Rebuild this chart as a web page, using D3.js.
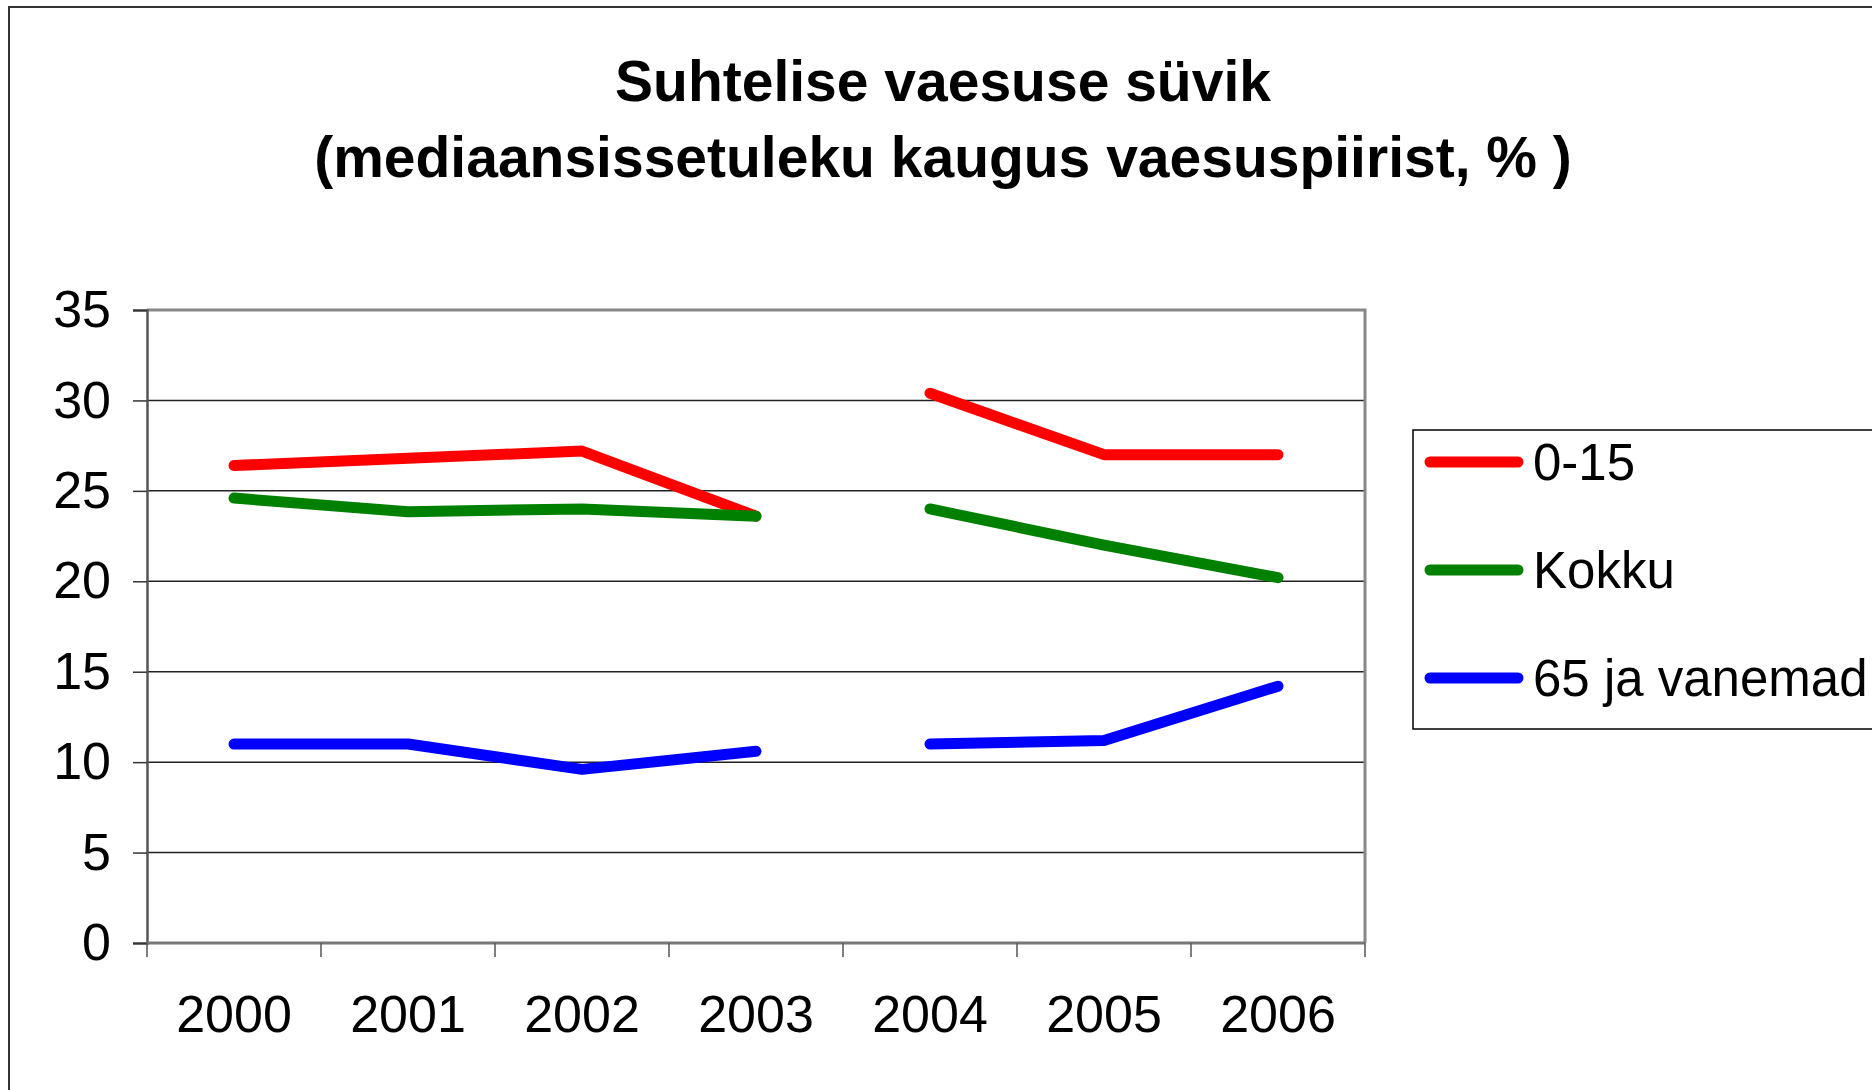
<!DOCTYPE html>
<html>
<head>
<meta charset="utf-8">
<script src="https://cdn.jsdelivr.net/npm/d3@7"></script>
<style>
  body { margin: 0; background: #fff; }
  text { font-family: "Liberation Sans", Arial, sans-serif; }
</style>
</head>
<body>
<div id="chart"></div>
<script>
var years = ["2000", "2001", "2002", "2003", "2004", "2005", "2006"];
var yTicks = [0, 5, 10, 15, 20, 25, 30, 35];
var child = [26.4, 26.8, 27.2, 23.6, 30.4, 27.0, 27.0];
var total = [24.6, 23.85, 24.0, 23.6, 24.0, 22.0, 20.2];
var elderly = [11.0, 11.0, 9.6, 10.6, 11.0, 11.2, 14.2];
// the series are broken between 2003 and 2004
var segments = [[0, 3], [4, 6]];
var seriesNames = ["0-15", "Kokku", "65 ja vanemad"];
var seriesColors = ["#ff0000", "#008000", "#0000ff"];
var seriesData = [child, total, elderly];

var W = 1872, H = 1090;
var plotLeft = 147, plotRight = 1365, plotTop = 310, plotBottom = 943;

var svg = d3.select("#chart").append("svg")
    .attr("width", W)
    .attr("height", H);

// outer frame
svg.append("rect")
    .attr("x", 9).attr("y", 7)
    .attr("width", W + 20).attr("height", H + 20)
    .attr("fill", "none")
    .attr("stroke", "#333")
    .attr("stroke-width", 2);

// title
var title = svg.append("text")
    .attr("text-anchor", "middle")
    .attr("font-weight", "bold")
    .attr("font-size", 57);
title.append("tspan").attr("x", 943).attr("y", 101).text("Suhtelise vaesuse süvik");
title.append("tspan").attr("x", 943).attr("y", 177).text("(mediaansissetuleku kaugus vaesuspiirist, % )");

var x = d3.scaleBand().domain(years).range([plotLeft, plotRight]).paddingInner(0).paddingOuter(0);
var y = d3.scaleLinear().domain([0, 35]).range([plotBottom, plotTop]);

// gridlines
svg.append("g").selectAll("line")
    .data(yTicks.filter(function(d) { return d > 0 && d < 35; }))
    .enter().append("line")
    .attr("x1", plotLeft).attr("x2", plotRight)
    .attr("y1", function(d) { return y(d); })
    .attr("y2", function(d) { return y(d); })
    .attr("stroke", "#222")
    .attr("stroke-width", 1.5);

// plot border top / right
svg.append("polyline")
    .attr("points", plotLeft + "," + y(35) + " " + plotRight + "," + y(35) + " " + plotRight + "," + y(0))
    .attr("fill", "none")
    .attr("stroke", "#888")
    .attr("stroke-width", 3);

// y axis
var yAxis = svg.append("g")
    .attr("transform", "translate(" + plotLeft + ",0)")
    .call(d3.axisLeft(y).tickValues(yTicks).tickSize(14).tickPadding(22));
yAxis.select(".domain").attr("stroke", "#555").attr("stroke-width", 2.5);
yAxis.selectAll(".tick line").attr("stroke", "#333").attr("stroke-width", 1.5);
yAxis.selectAll("text").attr("font-size", 52).attr("fill", "#000")
    .attr("font-family", "'Liberation Sans', Arial, sans-serif");

// x axis labels
var xAxis = svg.append("g")
    .attr("transform", "translate(0," + plotBottom + ")")
    .call(d3.axisBottom(x).tickSize(0).tickPadding(52));
xAxis.select(".domain").remove();
xAxis.selectAll("text").attr("font-size", 52).attr("fill", "#000")
    .attr("font-family", "'Liberation Sans', Arial, sans-serif");

// x axis line and ticks at band boundaries
var bounds = years.map(function(d) { return x(d); }).concat([plotRight]);
svg.append("line")
    .attr("x1", plotLeft).attr("x2", plotRight)
    .attr("y1", plotBottom).attr("y2", plotBottom)
    .attr("stroke", "#777")
    .attr("stroke-width", 3);
svg.append("g").selectAll("line")
    .data(bounds)
    .enter().append("line")
    .attr("x1", function(d) { return d; })
    .attr("x2", function(d) { return d; })
    .attr("y1", plotBottom).attr("y2", plotBottom + 14)
    .attr("stroke", "#555")
    .attr("stroke-width", 1.5);

// lines
var line = d3.line()
    .x(function(d) { return x(years[d.i]) + x.bandwidth() / 2; })
    .y(function(d) { return y(d.v); });

seriesData.forEach(function(vals, k) {
    segments.forEach(function(seg) {
        var pts = [];
        for (var i = seg[0]; i <= seg[1]; i++) pts.push({ i: i, v: vals[i] });
        svg.append("path")
            .datum(pts)
            .attr("d", line)
            .attr("fill", "none")
            .attr("stroke", seriesColors[k])
            .attr("stroke-width", 11)
            .attr("stroke-linecap", "round")
            .attr("stroke-linejoin", "round");
    });
});

// legend
var legend = svg.append("g");
legend.append("rect")
    .attr("x", 1413).attr("y", 430)
    .attr("width", 470).attr("height", 299)
    .attr("fill", "#fff")
    .attr("stroke", "#000")
    .attr("stroke-width", 1.5);
var rows = legend.selectAll("g.row")
    .data(seriesNames)
    .enter().append("g")
    .attr("class", "row")
    .attr("transform", function(d, i) { return "translate(0," + (462 + i * 108) + ")"; });
rows.append("line")
    .attr("x1", 1430).attr("x2", 1518)
    .attr("y1", 0).attr("y2", 0)
    .attr("stroke", function(d, i) { return seriesColors[i]; })
    .attr("stroke-width", 11)
    .attr("stroke-linecap", "round");
rows.append("text")
    .attr("x", 1533)
    .attr("y", 18)
    .attr("font-size", 51)
    .text(function(d) { return d; });
</script>
</body>
</html>
